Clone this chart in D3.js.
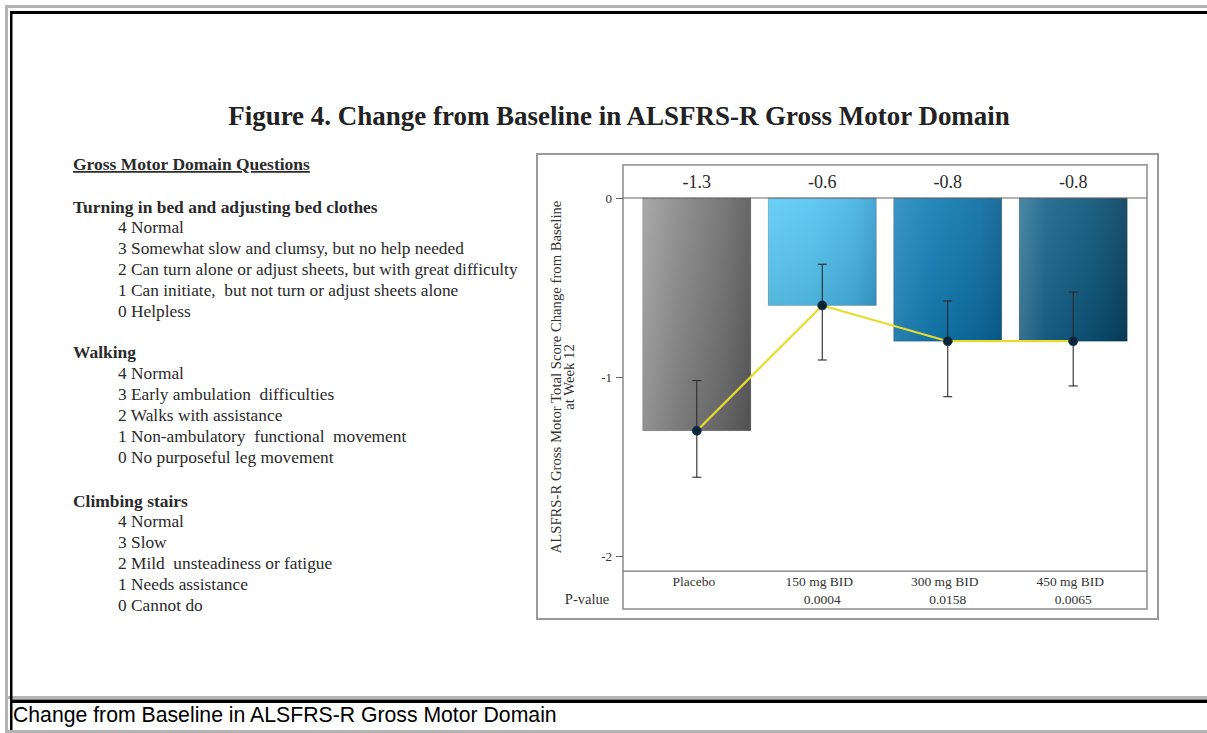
<!DOCTYPE html>
<html><head><meta charset="utf-8">
<script src="https://cdn.jsdelivr.net/npm/d3@7"></script>
<style>html,body{margin:0;padding:0;background:#fff;}svg{display:block;}</style>
</head><body>
<script>
// ---- data ----
const categories = ["Placebo", "150 mg BID", "300 mg BID", "450 mg BID"];
const means = [-1.3, -0.6, -0.8, -0.8];
const errLow = [-1.56, -0.905, -1.11, -1.05];
const errHigh = [-1.02, -0.37, -0.575, -0.525];
const valueLabels = ["-1.3", "-0.6", "-0.8", "-0.8"];
const pValues = ["", "0.0004", "0.0158", "0.0065"];
const yTicks = [0, -1, -2];
const yTickLabels = ["0", "-1", "-2"];

const q1Title = "Turning in bed and adjusting bed clothes";
const q1Items = ["4 Normal", "3 Somewhat slow and clumsy, but no help needed", "2 Can turn alone or adjust sheets, but with great difficulty", "1 Can initiate,  but not turn or adjust sheets alone", "0 Helpless"];
const q2Title = "Walking";
const q2Items = ["4 Normal", "3 Early ambulation  difficulties", "2 Walks with assistance", "1 Non-ambulatory  functional  movement", "0 No purposeful leg movement"];
const q3Title = "Climbing stairs";
const q3Items = ["4 Normal", "3 Slow", "2 Mild  unsteadiness or fatigue", "1 Needs assistance", "0 Cannot do"];

const W = 1207, H = 733;
const svg = d3.select("body").append("svg").attr("width", W).attr("height", H);
const serif = "'Liberation Serif','Times New Roman',serif";
const sans = "'Liberation Sans',Arial,sans-serif";

function fit(sel, target) {
  const w = sel.node().getComputedTextLength();
  const fs = parseFloat(sel.attr("font-size"));
  sel.attr("font-size", fs * target / w);
  return fs * target / w;
}

// ---- page frame ----
const frame = svg.append("g");
frame.append("rect").attr("x", 0).attr("y", 0).attr("width", W).attr("height", H).attr("fill", "#fff");
frame.append("rect").attr("x", 5).attr("y", 5).attr("width", W).attr("height", 3).attr("fill", "#b4b4b4");
frame.append("rect").attr("x", 5).attr("y", 5).attr("width", 3).attr("height", H).attr("fill", "#b4b4b4");
frame.append("rect").attr("x", 5).attr("y", 730).attr("width", W).attr("height", 3).attr("fill", "#b4b4b4");
frame.append("rect").attr("x", 8).attr("y", 696).attr("width", W).attr("height", 3).attr("fill", "#b4b4b4");
frame.append("rect").attr("x", 10).attr("y", 11).attr("width", W).attr("height", 3).attr("fill", "#000");
frame.append("rect").attr("x", 10).attr("y", 11).attr("width", 2.5).attr("height", 719).attr("fill", "#000");
frame.append("rect").attr("x", 10).attr("y", 699.5).attr("width", W).attr("height", 3.5).attr("fill", "#000");

// caption
const cap = svg.append("text").attr("x", 13).attr("y", 722).attr("font-family", sans)
  .attr("font-size", 20).attr("fill", "#000").text("Change from Baseline in ALSFRS-R Gross Motor Domain");
fit(cap, 544);

// ---- title ----
const title = svg.append("text").attr("x", 619).attr("y", 125).attr("text-anchor", "middle")
  .attr("font-family", serif).attr("font-weight", "bold").attr("font-size", 21).attr("fill", "#222")
  .text("Figure 4. Change from Baseline in ALSFRS-R Gross Motor Domain");
fit(title, 782);

// ---- left text ----
const left = svg.append("g").attr("font-family", serif).attr("fill", "#2a2a2a");
const hdr = left.append("text").attr("x", 73).attr("y", 170).attr("font-weight", "bold")
  .attr("font-size", 13).attr("text-decoration", "underline").text("Gross Motor Domain Questions");
fit(hdr, 237);
const h1 = left.append("text").attr("x", 73).attr("y", 213).attr("font-weight", "bold").attr("font-size", 15).text(q1Title);
const headFs = fit(h1, 305);
const probe = left.append("text").attr("x", 118).attr("y", 0).attr("font-size", 14).text(q1Items[2]);
const itemFs = fit(probe, 400);
probe.remove();

function block(titleText, items, yHead, yFirst, step, drawHead) {
  if (drawHead) left.append("text").attr("x", 73).attr("y", yHead).attr("font-weight", "bold")
    .attr("font-size", headFs).text(titleText);
  left.selectAll(null).data(items).enter().append("text")
    .attr("x", 118).attr("y", (d, i) => yFirst + i * step)
    .attr("font-size", itemFs).attr("xml:space", "preserve").style("white-space", "pre").text(d => d);
}
block(q1Title, q1Items, 213, 233, 21, false);
block(q2Title, q2Items, 358, 379, 21, true);
block(q3Title, q3Items, 507, 527, 21, true);

// ---- chart ----
const y = d3.scaleLinear().domain([0, -2]).range([198, 556]);
const x = d3.scaleBand().domain(categories).range([634, 1136]).paddingInner(0.139).paddingOuter(0.07);
const yTop = y(0.185), yBot = y(-2.085);
const innerL = 623, innerR = 1147;

const chart = svg.append("g").attr("font-family", serif);
chart.append("rect").attr("x", 537).attr("y", 154).attr("width", 621).attr("height", 465)
  .attr("fill", "none").attr("stroke", "#9a9a9a").attr("stroke-width", 2);
chart.append("rect").attr("x", innerL).attr("y", yTop).attr("width", innerR - innerL).attr("height", 609 - yTop)
  .attr("fill", "none").attr("stroke", "#8a8a8a").attr("stroke-width", 1.5);

// gradients
const defs = svg.append("defs");
const gradStops = [
  [["0", "#a2a2a2"], ["0.3", "#8a8a8a"], ["0.75", "#6e6e6e"], ["1", "#5a5a5a"]],
  [["0", "#5fcbf4"], ["0.4", "#55c5f1"], ["0.8", "#46b3e3"], ["1", "#3a9fcf"]],
  [["0", "#2b8dc2"], ["0.35", "#137db5"], ["0.8", "#0c6ea3"], ["1", "#0a5f8e"]],
  [["0", "#3c7e9e"], ["0.25", "#1a648c"], ["0.7", "#0b5378"], ["1", "#08405f"]]
];
gradStops.forEach((stops, i) => {
  const g = defs.append("linearGradient").attr("id", "g" + i).attr("x1", 0).attr("x2", 1).attr("y1", 0).attr("y2", 0);
  stops.forEach(s => g.append("stop").attr("offset", s[0]).attr("stop-color", s[1]));
});
const shade = defs.append("linearGradient").attr("id", "shade").attr("x1", 0).attr("x2", 0).attr("y1", 0).attr("y2", 1);
shade.append("stop").attr("offset", "0").attr("stop-color", "#fff").attr("stop-opacity", 0.08);
shade.append("stop").attr("offset", "1").attr("stop-color", "#000").attr("stop-opacity", 0.1);

const bars = categories.map((c, i) => ({ c, v: means[i], lo: errLow[i], hi: errHigh[i], lab: valueLabels[i], p: pValues[i], i }));

chart.selectAll(".bar").data(bars).enter().append("rect").attr("class", "bar")
  .attr("x", d => x(d.c)).attr("y", y(0)).attr("width", x.bandwidth()).attr("height", d => y(d.v) - y(0))
  .attr("fill", d => `url(#g${d.i})`).attr("stroke", "rgba(0,0,0,0.25)").attr("stroke-width", 0.8);
chart.selectAll(".shade").data(bars).enter().append("rect")
  .attr("x", d => x(d.c)).attr("y", y(0)).attr("width", x.bandwidth()).attr("height", d => y(d.v) - y(0))
  .attr("fill", "url(#shade)");

chart.append("line").attr("x1", innerL).attr("x2", innerR).attr("y1", y(0)).attr("y2", y(0))
  .attr("stroke", "#666").attr("stroke-width", 1.2);
chart.append("line").attr("x1", innerL).attr("x2", innerR).attr("y1", yBot).attr("y2", yBot)
  .attr("stroke", "#777").attr("stroke-width", 1.2);

// y axis
const yAxis = d3.axisLeft(y).tickValues(yTicks).tickSize(7).tickPadding(4).tickFormat((d, i) => yTickLabels[i]);
const ag = chart.append("g").attr("transform", `translate(${innerL},0)`).call(yAxis);
ag.select(".domain").remove();
ag.selectAll(".tick line").attr("stroke", "#666");
ag.selectAll(".tick text").attr("font-family", serif).attr("font-size", 13).attr("fill", "#333");

// y title
const yt = chart.append("g").attr("transform", "translate(561,377) rotate(-90)");
const yt1 = yt.append("text").attr("text-anchor", "middle").attr("y", 0).attr("font-size", 12.5).attr("fill", "#333")
  .text("ALSFRS-R Gross Motor Total Score Change from Baseline");
const ytFs = fit(yt1, 353);
yt.append("text").attr("text-anchor", "middle").attr("y", 13).attr("font-size", ytFs).attr("fill", "#333").text("at Week 12");

// error bars
const eb = chart.selectAll(".eb").data(bars).enter().append("g").attr("stroke", "#2a2a2a").attr("stroke-width", 1.1);
eb.append("line").attr("x1", d => x(d.c) + x.bandwidth() / 2).attr("x2", d => x(d.c) + x.bandwidth() / 2)
  .attr("y1", d => y(d.hi)).attr("y2", d => y(d.lo));
eb.append("line").attr("x1", d => x(d.c) + x.bandwidth() / 2 - 4.5).attr("x2", d => x(d.c) + x.bandwidth() / 2 + 4.5)
  .attr("y1", d => y(d.hi)).attr("y2", d => y(d.hi));
eb.append("line").attr("x1", d => x(d.c) + x.bandwidth() / 2 - 4.5).attr("x2", d => x(d.c) + x.bandwidth() / 2 + 4.5)
  .attr("y1", d => y(d.lo)).attr("y2", d => y(d.lo));

// yellow line
const line = d3.line().x(d => x(d.c) + x.bandwidth() / 2).y(d => y(d.v));
chart.append("path").datum(bars).attr("d", line).attr("fill", "none").attr("stroke", "#e6dc2e").attr("stroke-width", 2.2);

// points
chart.selectAll(".pt").data(bars).enter().append("circle")
  .attr("cx", d => x(d.c) + x.bandwidth() / 2).attr("cy", d => y(d.v)).attr("r", 4.6)
  .attr("fill", "#0b2438").attr("stroke", "#1d3a50").attr("stroke-width", 0.6);

// value labels in header
chart.selectAll(".vl").data(bars).enter().append("text")
  .attr("x", d => x(d.c) + x.bandwidth() / 2).attr("y", 188).attr("text-anchor", "middle")
  .attr("font-size", 18).attr("fill", "#2a2a2a").text(d => d.lab);

// category labels
chart.selectAll(".cl").data(bars).enter().append("text")
  .attr("x", d => x(d.c) + x.bandwidth() / 2 - 3).attr("y", 586).attr("text-anchor", "middle")
  .attr("font-size", 13.5).attr("fill", "#333").text(d => d.c);
chart.selectAll(".pl").data(bars).enter().append("text")
  .attr("x", d => x(d.c) + x.bandwidth() / 2).attr("y", 604).attr("text-anchor", "middle")
  .attr("font-size", 13.5).attr("fill", "#333").text(d => d.p);
chart.append("text").attr("x", 587).attr("y", 604).attr("text-anchor", "middle")
  .attr("font-size", 14.5).attr("fill", "#333").text("P-value");
</script>
</body></html>
